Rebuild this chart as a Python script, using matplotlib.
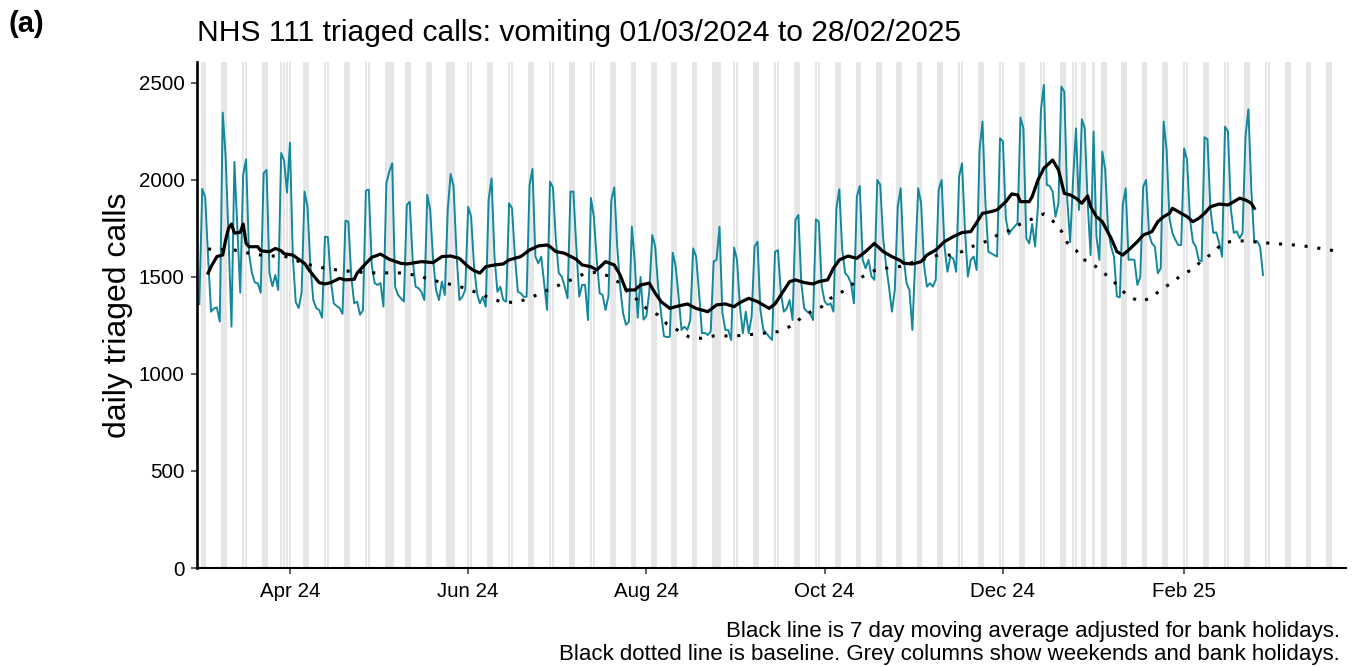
import numpy as np
import pandas as pd
import matplotlib
matplotlib.use("Agg")
import matplotlib.pyplot as plt
import matplotlib.dates as mdates

plt.rcParams['font.family'] = ['Liberation Sans', 'DejaVu Sans']

start = pd.Timestamp('2024-03-01')

# daily triaged calls, 1 Mar 2024 (Fri) then one row per week Sat..Fri
calls = [1360]
calls += [1954, 1911, 1600, 1321, 1338, 1343, 1270]   # Mar 2
calls += [2347, 2120, 1700, 1244, 2093, 1750, 1419]   # Mar 9
calls += [2026, 2107, 1620, 1520, 1471, 1468, 1419]   # Mar 16
calls += [2035, 2052, 1520, 1452, 1510, 1433, 2139]   # Mar 23
calls += [2100, 1935, 2192, 1600, 1370, 1340, 1420]   # Mar 30
calls += [1940, 1862, 1560, 1381, 1340, 1330, 1290]   # Apr 6
calls += [1708, 1705, 1480, 1364, 1350, 1340, 1310]   # Apr 13
calls += [1790, 1785, 1500, 1364, 1373, 1305, 1330]   # Apr 20
calls += [1945, 1950, 1560, 1468, 1459, 1468, 1347]   # Apr 27
calls += [1983, 2043, 2086, 1450, 1407, 1390, 1373]   # May 4
calls += [1871, 1888, 1588, 1450, 1442, 1424, 1381]   # May 11
calls += [1923, 1845, 1588, 1433, 1381, 1476, 1407]   # May 18
calls += [1845, 2031, 1966, 1622, 1381, 1398, 1433]   # May 25
calls += [1862, 1811, 1555, 1416, 1364, 1398, 1347]   # Jun 1
calls += [1897, 2008, 1605, 1424, 1450, 1381, 1373]   # Jun 8
calls += [1880, 1854, 1605, 1424, 1416, 1398, 1398]   # Jun 15
calls += [1974, 2057, 1605, 1570, 1605, 1468, 1330]   # Jun 22
calls += [1991, 1962, 1691, 1520, 1503, 1452, 1390]   # Jun 29
calls += [1940, 1940, 1656, 1399, 1459, 1459, 1278]   # Jul 6
calls += [1907, 1811, 1588, 1416, 1407, 1330, 1400]   # Jul 13
calls += [1897, 1962, 1656, 1450, 1314, 1253, 1270]   # Jul 20
calls += [1759, 1580, 1290, 1500, 1280, 1300, 1430]   # Jul 27
calls += [1716, 1656, 1450, 1314, 1195, 1190, 1192]   # Aug 3
calls += [1625, 1555, 1400, 1227, 1244, 1227, 1278]   # Aug 10
calls += [1647, 1605, 1420, 1210, 1212, 1201, 1218]   # Aug 17
calls += [1580, 1588, 1759, 1314, 1227, 1227, 1175]   # Aug 24
calls += [1651, 1588, 1347, 1210, 1321, 1210, 1295]   # Aug 31
calls += [1656, 1682, 1330, 1227, 1210, 1192, 1175]   # Sep 7
calls += [1630, 1638, 1420, 1321, 1338, 1381, 1278]   # Sep 14
calls += [1794, 1820, 1468, 1338, 1321, 1312, 1278]   # Sep 21
calls += [1797, 1785, 1450, 1373, 1356, 1364, 1321]   # Sep 28
calls += [1854, 1952, 1640, 1520, 1503, 1468, 1364]   # Oct 5
calls += [1914, 1969, 1588, 1545, 1588, 1503, 1485]   # Oct 12
calls += [2000, 1976, 1700, 1560, 1450, 1321, 1433]   # Oct 19
calls += [1862, 1957, 1605, 1468, 1433, 1227, 1590]   # Oct 26
calls += [1957, 1880, 1560, 1450, 1468, 1450, 1485]   # Nov 2
calls += [1948, 2000, 1657, 1527, 1605, 1595, 1527]   # Nov 9
calls += [2017, 2086, 1743, 1502, 1588, 1605, 1536]   # Nov 16
calls += [2155, 2301, 1880, 1630, 1622, 1613, 1605]   # Nov 23
calls += [2215, 2198, 1800, 1720, 1743, 1760, 1777]   # Nov 30
calls += [2322, 2266, 1700, 1673, 1773, 1657, 1870]   # Dec 7
calls += [2360, 2490, 1974, 1970, 1940, 1811, 1880]   # Dec 14
calls += [2481, 2455, 1900, 1680, 2000, 2266, 1845]   # Dec 21
calls += [2313, 2266, 1880, 1613, 2249, 1708, 1588]   # Dec 28
calls += [2146, 2052, 1742, 1656, 1605, 1400, 1395]   # Jan 4
calls += [1871, 1957, 1588, 1590, 1588, 1459, 1500]   # Jan 11
calls += [1966, 2000, 1720, 1673, 1656, 1519, 1545]   # Jan 18
calls += [2301, 2155, 1800, 1727, 1692, 1665, 1665]   # Jan 25
calls += [2163, 2103, 1800, 1682, 1656, 1588, 1580]   # Feb 1
calls += [2220, 2210, 1850, 1727, 1730, 1675, 1605]   # Feb 8
calls += [2275, 2249, 1850, 1727, 1735, 1700, 1727]   # Feb 15
calls += [2223, 2364, 1950, 1682, 1685, 1656, 1510]   # Feb 22
assert len(calls) == 365

# 7 day moving average (adjusted): days since 1 Mar 2024
ma_day = [3, 4, 6, 8, 9, 10, 11, 12, 14, 15, 16, 17, 20, 21, 24, 26, 28, 29,
          32, 34, 36, 38, 41, 43, 45, 48, 50, 53, 54, 57, 59, 62, 65, 69, 71,
          76, 80, 83, 86, 89, 92, 94, 96, 98, 101, 104, 106, 110, 113, 116,
          119, 120, 122, 125, 129, 131, 134, 136, 139, 142, 144, 146, 149,
          151, 154, 156, 158, 161, 163, 167, 170, 174, 177, 180, 183, 185,
          188, 191, 195, 197, 199, 202, 204, 207, 210, 212, 215, 217, 219,
          222, 225, 228, 231, 234, 237, 240, 241, 244, 247, 249, 252, 255,
          258, 261, 264, 266, 268, 271, 273, 276, 278, 280, 281, 284, 285,
          287, 289, 292, 294, 296, 298, 300, 302, 304, 305, 307, 309, 312,
          314, 316, 318, 321, 323, 326, 328, 330, 332, 333, 336, 338, 340,
          342, 344, 346, 349, 352, 354, 356, 358, 360, 361]
ma_val = [1520, 1553, 1605, 1613, 1691, 1751, 1773, 1726, 1730, 1773, 1673,
          1656, 1656, 1635, 1630, 1647, 1635, 1620, 1613, 1591, 1570, 1527,
          1471, 1464, 1471, 1493, 1485, 1488, 1520, 1570, 1601, 1618, 1591,
          1570, 1567, 1579, 1574, 1605, 1608, 1596, 1553, 1533, 1520, 1553,
          1562, 1567, 1588, 1605, 1639, 1660, 1665, 1656, 1631, 1622, 1591,
          1562, 1553, 1536, 1579, 1562, 1510, 1433, 1433, 1459, 1468, 1416,
          1373, 1338, 1347, 1361, 1338, 1321, 1356, 1361, 1347, 1368, 1390,
          1373, 1338, 1361, 1407, 1476, 1485, 1471, 1464, 1476, 1485, 1545,
          1588, 1608, 1596, 1631, 1673, 1631, 1605, 1584, 1571, 1567, 1579,
          1613, 1639, 1682, 1708, 1729, 1734, 1780, 1828, 1837, 1846, 1888,
          1928, 1923, 1888, 1888, 1914, 2000, 2060, 2103, 2052, 1931, 1923,
          1906, 1880, 1918, 1862, 1811, 1785, 1700, 1631, 1613, 1639, 1682,
          1716, 1734, 1785, 1811, 1828, 1854, 1828, 1811, 1785, 1802, 1828,
          1862, 1876, 1871, 1888, 1906, 1897, 1880, 1854]

# baseline
base_day = [3, 12, 16, 21, 25, 29, 32, 36, 40, 45, 49, 53, 58, 62, 66, 70, 75,
            79, 83, 87, 91, 95, 99, 103, 108, 112, 116, 120, 124, 128, 132,
            136, 140, 144, 147, 150, 153, 157, 160, 164, 168, 172, 176, 180,
            185, 189, 193, 198, 202, 205, 209, 213, 216, 220, 224, 227, 231,
            235, 240, 244, 248, 253, 257, 261, 265, 269, 273, 277, 281, 285,
            289, 292, 295, 297, 300, 302, 305, 308, 312, 315, 318, 322, 326,
            329, 333, 336, 340, 343, 347, 350, 354, 358, 363, 367, 372, 376,
            380, 385, 389]
base_val = [1644, 1639, 1625, 1613, 1608, 1608, 1591, 1570, 1553, 1540, 1533,
            1527, 1522, 1520, 1522, 1520, 1505, 1488, 1471, 1459, 1442, 1419,
            1395, 1373, 1368, 1385, 1411, 1438, 1464, 1490, 1519, 1525, 1505,
            1468, 1416, 1381, 1338, 1304, 1258, 1223, 1187, 1184, 1196, 1196,
            1198, 1204, 1210, 1218, 1244, 1278, 1318, 1347, 1390, 1424, 1468,
            1502, 1533, 1545, 1555, 1575, 1591, 1613, 1613, 1631, 1660, 1682,
            1715, 1739, 1773, 1799, 1825, 1790, 1737, 1677, 1639, 1591, 1579,
            1536, 1493, 1442, 1399, 1373, 1393, 1436, 1471, 1510, 1540, 1584,
            1625, 1673, 1686, 1686, 1678, 1673, 1668, 1663, 1656, 1643, 1634]

bank_holidays = ['2024-03-29', '2024-04-01', '2024-05-06', '2024-05-27',
                 '2024-08-26', '2024-12-25', '2024-12-26', '2025-01-01']

call_dates = pd.date_range(start, periods=len(calls), freq='D')
ma_dates = start + pd.to_timedelta(ma_day, unit='D')
base_dates = start + pd.to_timedelta(base_day, unit='D')

all_days = pd.date_range('2024-03-01', '2025-03-28', freq='D')
grey_days = all_days[all_days.dayofweek >= 5].union(pd.DatetimeIndex(bank_holidays))

fig = plt.figure(figsize=(13.62, 6.67), dpi=100)
ax = fig.add_axes([197 / 1362, 1 - 568 / 667, (1346 - 197) / 1362, (568 - 62) / 667])

ymax = 2608
ax.bar(grey_days, ymax + 100, width=0.9, bottom=0, color='#e6e6e6', zorder=0, align='center')
ax.plot(call_dates, calls, color='#13889c', lw=1.4, zorder=2)
ax.plot(base_dates, base_val, color='black', lw=2.2, ls=(0, (1, 3.2)), zorder=3)
ax.plot(ma_dates, ma_val, color='black', lw=2.3, zorder=4)

ax.set_xlim(start - pd.Timedelta(days=0.8), start + pd.Timedelta(days=392.4))
ax.set_ylim(0, ymax)
ax.set_yticks([0, 500, 1000, 1500, 2000, 2500])
ax.xaxis.set_major_locator(mdates.MonthLocator(bymonth=[2, 4, 6, 8, 10, 12]))
ax.xaxis.set_major_formatter(mdates.DateFormatter('%b %y'))

for s in ['top', 'right']:
    ax.spines[s].set_visible(False)
ax.spines['left'].set_linewidth(1.9)
ax.spines['bottom'].set_linewidth(1.5)
ax.tick_params(axis='both', length=4, width=1.1, color='#333333',
               labelsize=14.8, labelcolor='black')
ax.tick_params(axis='y', pad=5)
ax.tick_params(axis='x', pad=6)

fig.text(197 / 1362, 1 - 41 / 667, 'NHS 111 triaged calls: vomiting 01/03/2024 to 28/02/2025',
         fontsize=21.6, ha='left', va='baseline')
fig.text(8 / 1362, 1 - 32 / 667, '(a)', fontsize=21, fontweight='bold', ha='left', va='baseline')
fig.text(118 / 1362, 1 - 315 / 667, 'daily triaged calls', fontsize=23, rotation=90,
         ha='center', va='center')
fig.text(1340 / 1362, 1 - 637 / 667, 'Black line is 7 day moving average adjusted for bank holidays.',
         fontsize=16, ha='right', va='baseline')
fig.text(1340 / 1362, 1 - 660 / 667,
         'Black dotted line is baseline. Grey columns show weekends and bank holidays.',
         fontsize=16, ha='right', va='baseline')

fig.savefig('out.png', dpi=100)
